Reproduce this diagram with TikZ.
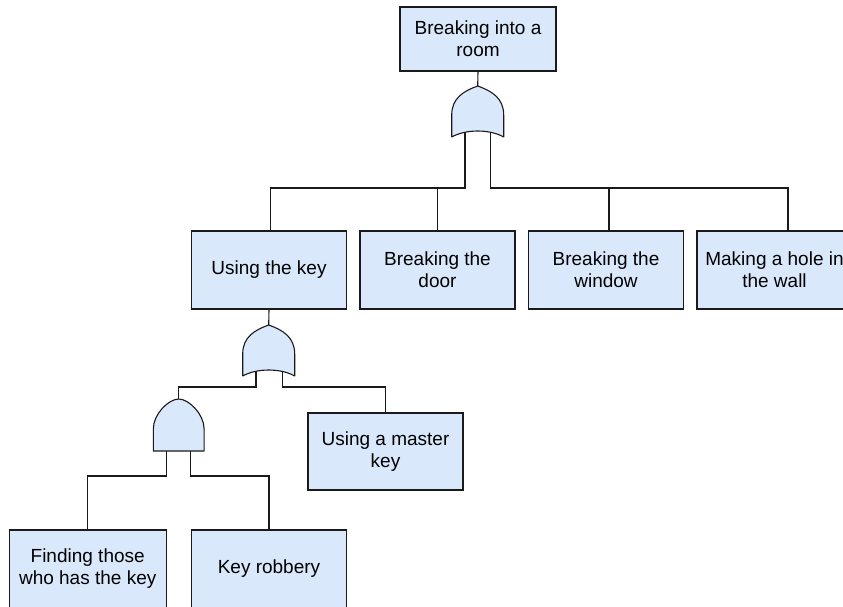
\documentclass[tikz,border=0pt]{standalone}
\usepackage{fontspec}
\setmainfont{Liberation Sans}
\definecolor{boxfill}{HTML}{DAE8FC}
\definecolor{edge}{HTML}{1A1A1A}
\begin{document}
\begin{tikzpicture}[x=1pt,y=-1pt,
  evt/.style={draw=edge,fill=boxfill,line width=1.1pt,minimum width=155pt,minimum height=78pt,
    align=center,inner sep=0pt,font=\fontsize{19}{22}\selectfont,text=black},
  gate/.style={draw=edge,fill=boxfill,line width=1.1pt,line join=round},
  wire/.style={draw=edge,line width=1.1pt}]
\useasboundingbox (0,0) rectangle (843,606);
\clip (0,0) rectangle (843,606);
% events
\node[evt,minimum width=156pt,minimum height=64pt] (top) at (478,39) {Breaking into a\\room};
\node[evt] (key) at (269,270) {Using the key};
\node[evt] (door) at (437.5,270) {Breaking the\\door};
\node[evt] (window) at (606,270) {Breaking the\\window};
\node[evt] (wall) at (774.5,270) {Making a hole in\\the wall};
\node[evt,minimum height=77pt] (master) at (385.5,451.5) {Using a master\\key};
\node[evt,minimum width=157pt] (finding) at (87.7,569) {Finding those\\who has the key};
\node[evt] (robbery) at (269,569) {Key robbery};
% OR gate 1
\begin{scope}[shift={(477.7,86)}]
\path[gate] (0,0) .. controls (-14,5) and (-26,12) .. (-26,29) -- (-26,51)
  .. controls (-12,43) and (12,43) .. (26,51) -- (26,29)
  .. controls (26,12) and (14,5) .. (0,0) -- cycle;
\coordinate (g1out) at (0,0);
\coordinate (g1a) at (-12.7,46);
\coordinate (g1b) at (13,46);
\end{scope}
% OR gate 2
\begin{scope}[shift={(268.7,325)}]
\path[gate] (0,0) .. controls (-14,5) and (-26,12) .. (-26,29) -- (-26,51)
  .. controls (-12,43) and (12,43) .. (26,51) -- (26,29)
  .. controls (26,12) and (14,5) .. (0,0) -- cycle;
\coordinate (g2out) at (0,0);
\coordinate (g2a) at (-12.7,46);
\coordinate (g2b) at (13.6,46);
\end{scope}
% AND gate
\begin{scope}[shift={(178.7,399)}]
\path[gate] (-25.4,52) -- (-25.4,30) .. controls (-25.4,15) and (-10,0) .. (0,0)
  .. controls (10,0) and (25.4,15) .. (25.4,30) -- (25.4,52) -- cycle;
\coordinate (g3out) at (0,0);
\coordinate (g3a) at (-12,52);
\coordinate (g3b) at (12,52);
\end{scope}
% bus levels
\coordinate (bus1) at (0,188);
\coordinate (bus2) at (0,387);
\coordinate (bus3) at (0,476);
% connectors
\draw[wire] (top.south) -- (g1out);
\draw[wire] (g1a) -- (g1a |- bus1) -| ([xshift=1.5pt]key.north);
\draw[wire] (door.north) -- (door.north |- bus1);
\draw[wire] (g1b) -- (g1b |- bus1) -| ([xshift=13.5pt]wall.north);
\draw[wire] ([xshift=3pt]window.north) -- ([xshift=3pt]window.north |- bus1);
\draw[wire] (key.south) -- (g2out);
\draw[wire] (g2a) -- (g2a |- bus2) -| (g3out);
\draw[wire] (g2b) -- (g2b |- bus2) -| (master.north);
\draw[wire] (g3a) -- (g3a |- bus3) -| (finding.north);
\draw[wire] (g3b) -- (g3b |- bus3) -| (robbery.north);
\end{tikzpicture}
\end{document}
